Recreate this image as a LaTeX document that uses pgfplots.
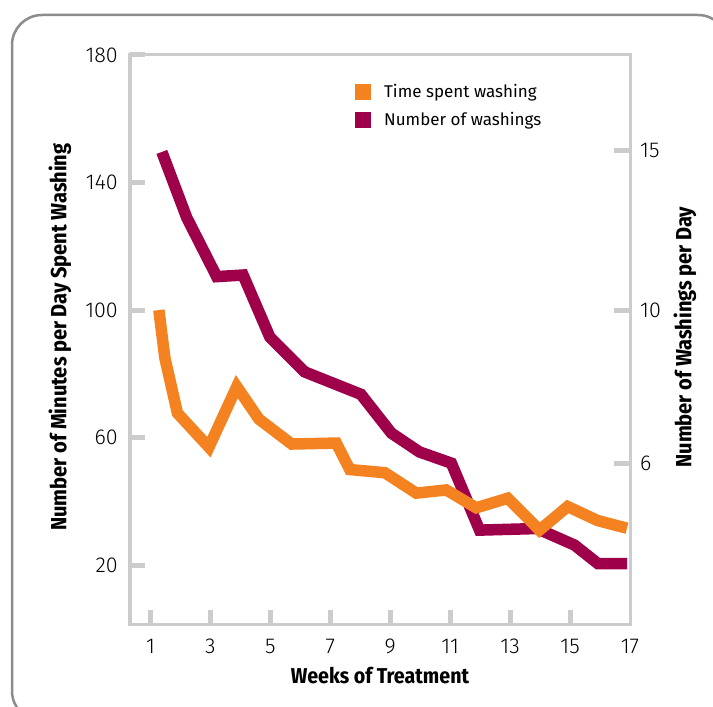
\documentclass[border=0pt]{standalone}
\usepackage{pgfplots}
\pgfplotsset{compat=1.18}
\usepackage{fontspec}
\setmainfont{Fira Sans}
\newfontfamily\lightfont{Fira Sans Light}
\newfontfamily\condfont{Fira Sans Condensed}
\definecolor{washorange}{RGB}{245,130,32}
\definecolor{washpurple}{RGB}{158,0,74}
\definecolor{axgray}{RGB}{204,204,204}
\definecolor{framegray}{RGB}{140,140,140}
\begin{document}
\begin{tikzpicture}
\useasboundingbox (0,0) rectangle (713pt,707pt);
\draw[framegray, line width=2.5pt, rounded corners=30pt] (12pt,692pt) rectangle (728pt,-14pt);
\begin{axis}[
  at={(130pt,82pt)}, anchor=south west,
  scale only axis, width=500pt, height=570pt,
  xmin=0.317, xmax=17, ymin=1.25, ymax=180,
  /pgf/number format/assume math mode=true,
  axis line style={axgray, line width=3pt},
  xtick={1,3,...,15},
  extra x ticks={17}, extra x tick style={major tick length=0pt},
  ytick={20,60,100,140,180},
  xtick pos=bottom, ytick pos=left,
  tick align=inside,
  major tick length=15pt,
  tick style={axgray, line width=5pt},
  xticklabel style={font=\lightfont\fontsize{21.5}{25}\selectfont, inner sep=0pt, anchor=north, yshift=-14pt},
  yticklabel style={font=\lightfont\fontsize{21.5}{25}\selectfont, inner sep=0pt, anchor=east, xshift=-12pt},
  xlabel={Weeks of Treatment},
  ylabel={Number of Minutes per Day Spent Washing},
  every axis x label/.style={at={(axis description cs:0.5,0)}, anchor=north, yshift=-42pt, inner sep=0pt, font=\condfont\bfseries\fontsize{21.5}{24}\selectfont},
  every axis y label/.style={at={(axis description cs:-0.14,0.505)}, anchor=center, rotate=90, inner sep=0pt, font=\condfont\bfseries\fontsize{22}{25}\selectfont},
  legend style={at={(axis description cs:0.45,0.950)}, anchor=north west, draw=none, fill=none, inner sep=0pt, font=\fontsize{17}{20}\selectfont, nodes={inner sep=0pt}, column sep=13pt, row sep=12pt},
  legend cell align=left,
  reverse legend,
  legend image code/.code={\fill[#1, draw=none] (0pt,-8pt) rectangle (16pt,8pt);},
  line join=miter, line cap=butt,
  clip=false,
]
\addplot[color=washpurple, line width=11.5pt, mark=none] coordinates {
(1.38,149.6) (2.21,129) (3.21,110.5) (4.09,111) (4.98,91.6) (6.15,80.6) (8.02,73.6) (9.04,61.4) (9.98,55.5) (11.04,52) (11.98,31) (13.9,31.5) (15.15,26.3) (15.93,20.5) (16.9,20.5)
};
\addlegendentry{Number of washings}
\addplot[color=washorange, line width=11.5pt, mark=none] coordinates {
(1.28,100) (1.48,85) (1.9,67.7) (2.95,57) (3.88,76) (4.62,65.8) (5.71,58) (7.2,58.3) (7.65,50) (8.82,49) (9.87,42.6) (10.87,43.6) (11.87,38) (12.92,41) (13.98,31) (14.92,38.4) (15.92,34) (16.9,31.6)
};
\addlegendentry{Time spent washing}
\end{axis}
\begin{axis}[
  at={(130pt,82pt)}, anchor=south west,
  scale only axis, width=500pt, height=570pt,
  xmin=0.317, xmax=17, ymin=1.25, ymax=180,
  /pgf/number format/assume math mode=true,
  axis line style={axgray, line width=3pt},
  hide x axis,
  axis y line*=right,
  ytick={52,100,150}, yticklabels={6,10,15},
  tick align=inside,
  major tick length=16pt,
  tick style={axgray, line width=5pt},
  yticklabel style={font=\lightfont\fontsize{21.5}{25}\selectfont, inner sep=0pt, anchor=west, xshift=10pt},
  ylabel={Number of Washings per Day},
  every axis y label/.style={at={(axis description cs:1.11,0.505)}, anchor=center, rotate=90, inner sep=0pt, font=\condfont\bfseries\fontsize{22}{25}\selectfont},
]
\end{axis}
\end{tikzpicture}
\end{document}
